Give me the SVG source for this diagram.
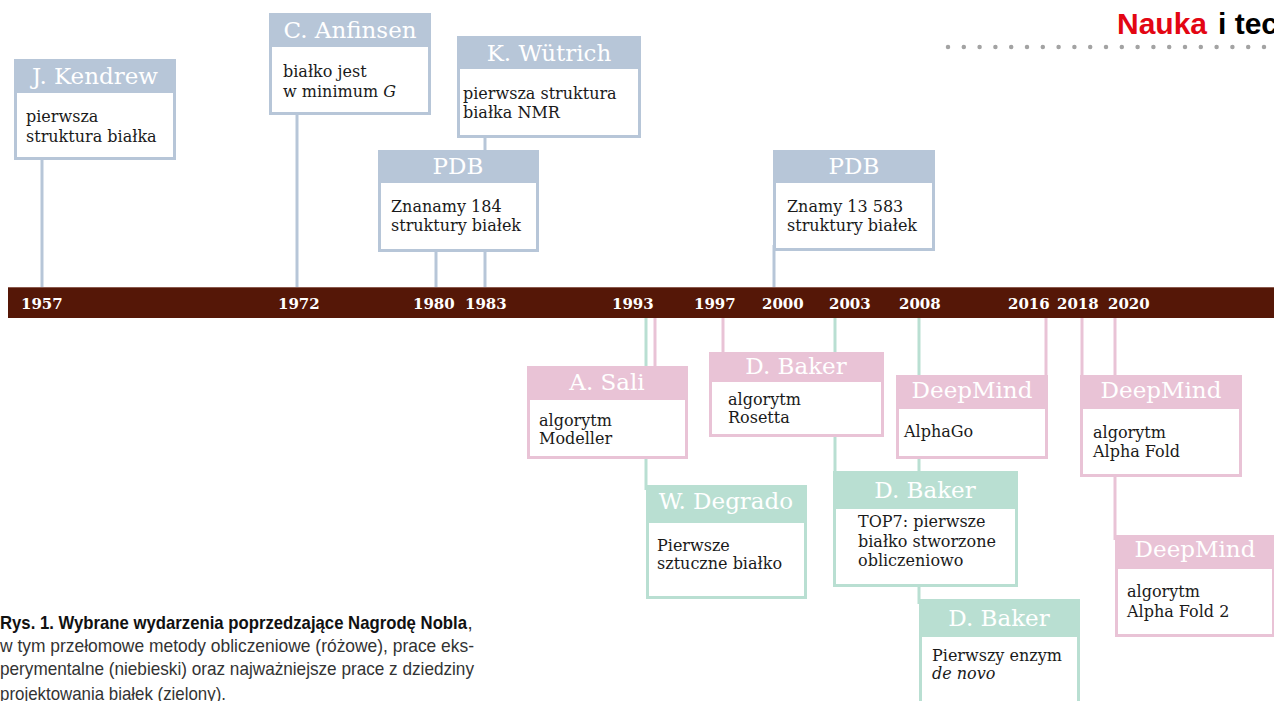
<svg xmlns="http://www.w3.org/2000/svg" width="1274" height="701" viewBox="0 0 1274 701">
<style>
.hdr{font-family:"DejaVu Serif","Liberation Serif",serif;font-size:23px;fill:#ffffff;text-anchor:middle}
.body{font-family:"DejaVu Serif","Liberation Serif",serif;font-size:16px;fill:#1a1a1a}
.yr{font-family:"DejaVu Serif","Liberation Serif",serif;font-size:15px;font-weight:bold;fill:#ffffff}
.cap{font-family:"Liberation Sans",Arial,sans-serif;font-size:18.5px;fill:#333333}
.capb{font-weight:bold;fill:#111111}
.bl{fill:#ffffff;stroke:#b7c6d8;stroke-width:3}
.pk{fill:#ffffff;stroke:#e9c3d6;stroke-width:3}
.gr{fill:#ffffff;stroke:#b9dfd2;stroke-width:3}
.blh{fill:#b7c6d8}
.pkh{fill:#e9c3d6}
.grh{fill:#b9dfd2}
.cb{stroke:#b7c6d8;stroke-width:3;fill:none}
.cp{stroke:#e9c3d6;stroke-width:3;fill:none}
.cg{stroke:#b9dfd2;stroke-width:3;fill:none}
</style>
<rect width="1274" height="701" fill="#ffffff"/>

<g id="masthead">
<text x="1117" y="34" font-family="Liberation Sans, Arial, sans-serif" font-size="30" font-weight="bold" fill="#e30613">Nauka</text>
<text x="1218" y="34" font-family="Liberation Sans, Arial, sans-serif" font-size="30" font-weight="bold" fill="#000000">i tec</text>
<line x1="948" y1="47" x2="1274" y2="47" stroke="#a3a3a3" stroke-width="4.5" stroke-linecap="round" stroke-dasharray="0 15.8"/>
</g>

<g id="connectors">
<line class="cb" x1="42" y1="150" x2="42" y2="288"/>
<line class="cb" x1="297" y1="110" x2="297" y2="288"/>
<line class="cb" x1="436" y1="245" x2="436" y2="288"/>
<line class="cb" x1="485" y1="130" x2="485" y2="288"/>
<line class="cb" x1="774" y1="245" x2="774" y2="288"/>
<line class="cg" x1="646" y1="317" x2="646" y2="490"/>
<line class="cp" x1="655" y1="317" x2="655" y2="370"/>
<line class="cp" x1="723" y1="317" x2="723" y2="356"/>
<line class="cg" x1="835" y1="317" x2="835" y2="476"/>
<line class="cg" x1="919" y1="317" x2="919" y2="604"/>
<line class="cp" x1="1046" y1="317" x2="1046" y2="380"/>
<line class="cp" x1="1082" y1="317" x2="1082" y2="380"/>
<line class="cp" x1="1115" y1="317" x2="1115" y2="540"/>
</g>

<g id="timeline">
<rect x="8" y="287" width="1266" height="31" fill="#551707"/>
<line x1="8" y1="287.5" x2="1274" y2="287.5" stroke="#8a5a4e" stroke-width="1"/>
<text class="yr" x="21" y="309">1957</text>
<text class="yr" x="278" y="309">1972</text>
<text class="yr" x="413" y="309">1980</text>
<text class="yr" x="465" y="309">1983</text>
<text class="yr" x="612" y="309">1993</text>
<text class="yr" x="694" y="309">1997</text>
<text class="yr" x="762" y="309">2000</text>
<text class="yr" x="829" y="309">2003</text>
<text class="yr" x="899" y="309">2008</text>
<text class="yr" x="1008" y="309">2016</text>
<text class="yr" x="1057" y="309">2018</text>
<text class="yr" x="1108" y="309">2020</text>
</g>

<g id="kendrew">
<rect class="bl" x="15.5" y="60.5" width="159" height="98"/>
<rect class="blh" x="14" y="59" width="162" height="34"/>
<text class="hdr" x="95" y="84">J. Kendrew</text>
<text class="body" x="26" y="122">pierwsza</text>
<text class="body" x="26" y="142">struktura białka</text>
</g>

<g id="anfinsen">
<rect class="bl" x="270.5" y="14.5" width="159" height="99"/>
<rect class="blh" x="269" y="13" width="162" height="34"/>
<text class="hdr" x="350" y="38">C. Anfinsen</text>
<text class="body" x="283" y="77">białko jest</text>
<text class="body" x="283" y="97">w minimum <tspan font-style="italic">G</tspan></text>
</g>

<g id="wutrich">
<rect class="bl" x="458.5" y="37.5" width="181" height="99"/>
<rect class="blh" x="457" y="36" width="184" height="33"/>
<text class="hdr" x="549" y="61">K. Wütrich</text>
<text class="body" x="463" y="99">pierwsza struktura</text>
<text class="body" x="463" y="118">białka NMR</text>
</g>

<g id="pdb1980">
<rect class="bl" x="379.5" y="151.5" width="158" height="99"/>
<rect class="blh" x="378" y="150" width="161" height="33"/>
<text class="hdr" x="458" y="174">PDB</text>
<text class="body" x="391" y="212">Znanamy 184</text>
<text class="body" x="391" y="231">struktury białek</text>
</g>

<g id="pdb2000">
<rect class="bl" x="774.5" y="151.5" width="159" height="98"/>
<rect class="blh" x="773" y="150" width="162" height="33"/>
<text class="hdr" x="854" y="174">PDB</text>
<text class="body" x="787" y="212">Znamy 13 583</text>
<text class="body" x="787" y="231">struktury białek</text>
</g>

<g id="sali">
<rect class="pk" x="528.5" y="367.5" width="158" height="90"/>
<rect class="pkh" x="527" y="366" width="161" height="34"/>
<text class="hdr" x="607" y="390">A. Sali</text>
<text class="body" x="539" y="426">algorytm</text>
<text class="body" x="539" y="444">Modeller</text>
</g>

<g id="baker-rosetta">
<rect class="pk" x="710.5" y="353.5" width="172" height="82"/>
<rect class="pkh" x="709" y="352" width="175" height="30"/>
<text class="hdr" x="796" y="374">D. Baker</text>
<text class="body" x="728" y="405">algorytm</text>
<text class="body" x="728" y="423">Rosetta</text>
</g>

<g id="degrado">
<rect class="gr" x="647.5" y="486.5" width="158" height="111"/>
<rect class="grh" x="646" y="485" width="161" height="38"/>
<text class="hdr" x="726" y="509">W. Degrado</text>
<text class="body" x="657" y="551">Pierwsze</text>
<text class="body" x="657" y="569">sztuczne białko</text>
</g>

<g id="alphago">
<rect class="pk" x="897.5" y="376.5" width="149" height="81"/>
<rect class="pkh" x="896" y="375" width="152" height="34"/>
<text class="hdr" x="972" y="398">DeepMind</text>
<text class="body" x="904" y="437">AlphaGo</text>
</g>

<g id="baker-top7">
<rect class="gr" x="834.5" y="472.5" width="182" height="113"/>
<rect class="grh" x="833" y="471" width="185" height="38"/>
<text class="hdr" x="925" y="498">D. Baker</text>
<text class="body" x="858" y="527">TOP7: pierwsze</text>
<text class="body" x="858" y="547">białko stworzone</text>
<text class="body" x="858" y="566">obliczeniowo</text>
</g>

<g id="baker-enzym">
<rect class="gr" x="920.5" y="600.5" width="158" height="130"/>
<rect class="grh" x="919" y="599" width="161" height="38"/>
<text class="hdr" x="999" y="626">D. Baker</text>
<text class="body" x="932" y="661">Pierwszy enzym</text>
<text class="body" x="932" y="679" font-style="italic">de novo</text>
</g>

<g id="alphafold">
<rect class="pk" x="1081.5" y="376.5" width="159" height="99"/>
<rect class="pkh" x="1080" y="375" width="162" height="34"/>
<text class="hdr" x="1161" y="398">DeepMind</text>
<text class="body" x="1093" y="438">algorytm</text>
<text class="body" x="1093" y="457">Alpha Fold</text>
</g>

<g id="alphafold2">
<rect class="pk" x="1116.5" y="536.5" width="157" height="99"/>
<rect class="pkh" x="1115" y="535" width="160" height="34"/>
<text class="hdr" x="1195" y="557">DeepMind</text>
<text class="body" x="1127" y="597">algorytm</text>
<text class="body" x="1127" y="617">Alpha Fold 2</text>
</g>

<g id="caption">
<text class="cap capb" x="0" y="629" textLength="467" lengthAdjust="spacingAndGlyphs">Rys. 1. Wybrane wydarzenia poprzedzające Nagrodę Nobla</text>
<text class="cap" x="467.5" y="629">,</text>
<text class="cap" x="0" y="652" textLength="474" lengthAdjust="spacingAndGlyphs">w tym przełomowe metody obliczeniowe (różowe), prace eks-</text>
<text class="cap" x="0" y="675" textLength="474" lengthAdjust="spacingAndGlyphs">perymentalne (niebieski) oraz najważniejsze prace z dziedziny</text>
<text class="cap" x="0" y="700" textLength="226" lengthAdjust="spacingAndGlyphs">projektowania białek (zielony).</text>
</g>
</svg>
